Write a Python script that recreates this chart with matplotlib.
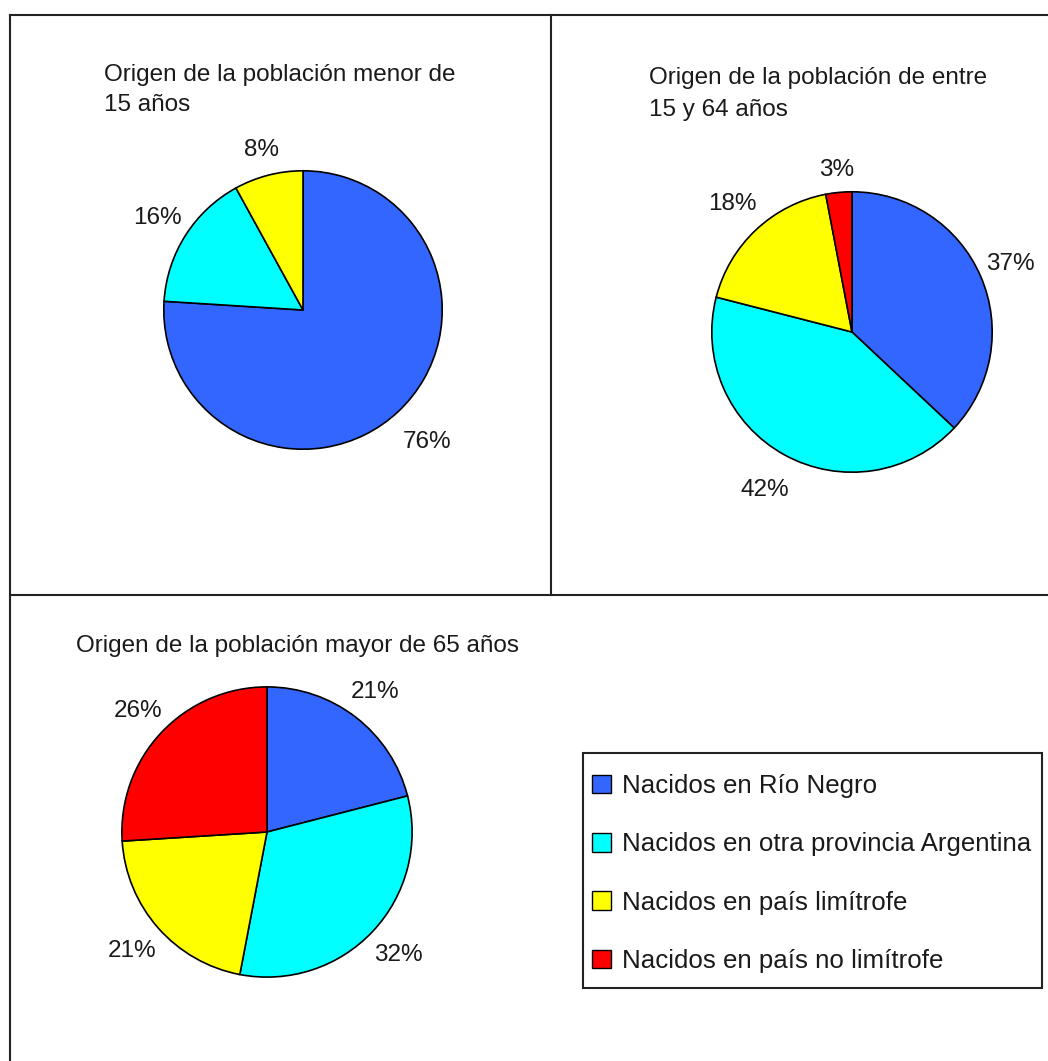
import matplotlib
matplotlib.use('Agg')
import matplotlib.pyplot as plt
from matplotlib.patches import Patch, Rectangle
from matplotlib.lines import Line2D
import numpy as np

plt.rcParams['font.family'] = ['Liberation Sans', 'DejaVu Sans']

# datos
categorias = ['Nacidos en Río Negro',
              'Nacidos en otra provincia Argentina',
              'Nacidos en país limítrofe',
              'Nacidos en país no limítrofe']
colores = ['#3366FF', '#00FFFF', '#FFFF00', '#FF0000']

menor15 = [76, 16, 8]          # sin país no limítrofe
entre15_64 = [37, 42, 18, 3]
mayor65 = [21, 32, 21, 26]

titulo1 = 'Origen de la población menor de\n15 años'
titulo2 = 'Origen de la población de entre\n15 y 64 años'
titulo3 = 'Origen de la población mayor de 65 años'

W, H = 1048, 1061
fig = plt.figure(figsize=(W / 100, H / 100), dpi=100)
fig.patch.set_facecolor('white')

TXT = '#1a1a1a'
FS = 17.5


def px(x, y):
    # pixeles -> fraccion de figura
    return x / W, 1 - y / H


def torta(cx, cy, r, valores, dist):
    ax = fig.add_axes([(cx - r) / W, 1 - (cy + r) / H, 2 * r / W, 2 * r / H])
    wedges, _ = ax.pie(valores, colors=colores[:len(valores)], startangle=90,
                       counterclock=False, radius=1,
                       wedgeprops=dict(edgecolor='black', linewidth=1.2))
    for w, v, d in zip(wedges, valores, dist):
        ang = np.deg2rad((w.theta1 + w.theta2) / 2)
        ax.text(d * np.cos(ang), d * np.sin(ang), f'{v}%', ha='center',
                va='center', fontsize=FS, color=TXT, clip_on=False)
    ax.set_xlim(-1.02, 1.02)
    ax.set_ylim(-1.02, 1.02)
    ax.axis('off')
    return ax


torta(303, 310, 142, menor15, [1.30, 1.24, 1.19])
torta(852, 332, 143, entre15_64, [1.23, 1.29, 1.25, 1.16])
torta(267, 832, 148, mayor65, [1.22, 1.24, 1.24, 1.22])

# titulos
fig.text(*px(104, 90), titulo1, ha='left', va='center', fontsize=FS,
         color=TXT, linespacing=1.45)
fig.text(*px(649, 94), titulo2, ha='left', va='center', fontsize=FS,
         color=TXT, linespacing=1.55)
fig.text(*px(76, 646), titulo3, ha='left', va='center', fontsize=FS,
         color=TXT)

# marcos
lc = '#222222'
for (x0, y0, x1, y1) in [(10, 15, W, 15), (10, 15, 10, H),
                         (551, 15, 551, 595), (10, 595, W, 595)]:
    a, b = px(x0, y0)
    c, d = px(x1, y1)
    fig.add_artist(Line2D([a, c], [b, d], color=lc, linewidth=1.5))

# leyenda
bx0, by0 = px(583, 988)
bx1, by1 = px(1042, 753)
fig.add_artist(Rectangle((bx0, by0), bx1 - bx0, by1 - by0, transform=fig.transFigure,
                         facecolor='white', edgecolor=lc, linewidth=1.5))
handles = [Patch(facecolor=c, edgecolor='black', linewidth=1.0) for c in colores]
leg = fig.legend(handles, categorias, loc='upper left',
                 bbox_to_anchor=px(592, 774), frameon=False, fontsize=18.6,
                 handlelength=0.72, handleheight=0.72, handletextpad=0.45,
                 labelspacing=1.33, borderpad=0.0, borderaxespad=0.0)
for t in leg.get_texts():
    t.set_color(TXT)

fig.savefig('out.png', dpi=100)
